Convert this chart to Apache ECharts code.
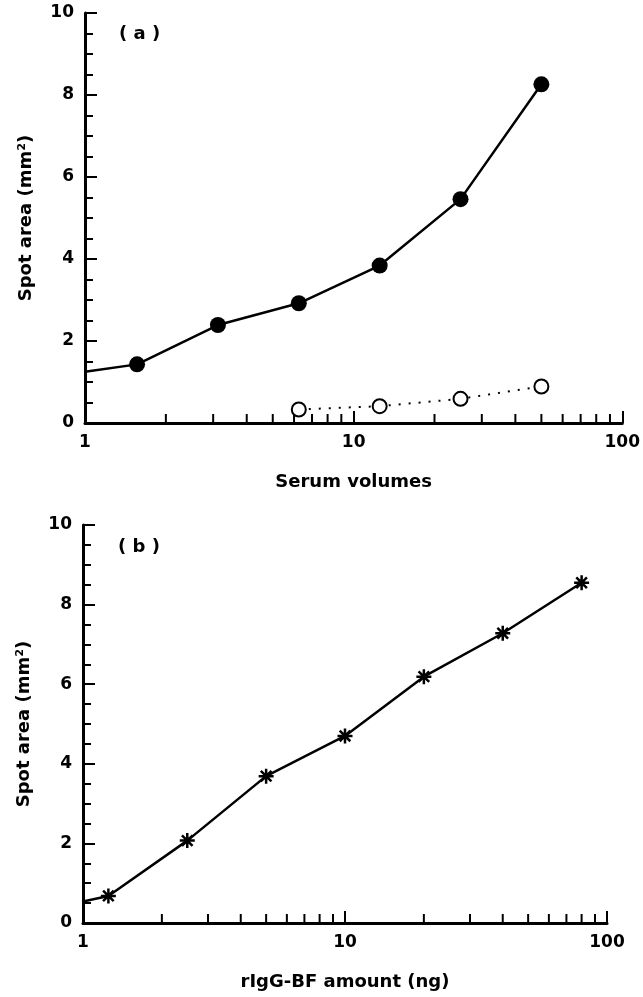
<!DOCTYPE html>
<html>
<head>
<meta charset="utf-8">
<script src="https://cdn.jsdelivr.net/npm/echarts@6/dist/echarts.min.js"></script>
<style>html,body{margin:0;padding:0;background:#fff}#c{width:643px;height:997px}</style>
</head>
<body>
<div id="c"></div>
<script>
// Panel (a): serum volumes
const serumX = [1, 1.5625, 3.125, 6.25, 12.5, 25, 50];
const serumFilledY = [1.25, 1.43, 2.39, 2.92, 3.84, 5.46, 8.26];
const serumOpenX = [6.25, 12.5, 25, 50];
const serumOpenY = [0.33, 0.41, 0.59, 0.89];
// Panel (b): rIgG-BF amount
const riggX = [1, 1.25, 2.5, 5, 10, 20, 40, 80];
const riggY = [0.54, 0.68, 2.07, 3.69, 4.70, 6.19, 7.28, 8.55];
// Axis tick values
const xMajorTicks = [1, 10, 100];
const xMinorTicks = [2, 3, 4, 5, 6, 7, 8, 9, 20, 30, 40, 50, 60, 70, 80, 90];
const yTicks = [0, 2, 4, 6, 8, 10];

const FONT = 'DejaVu Sans';
const asterisk = 'path://M0,-10L0,10M-10,0L10,0M-7.07,-7.07L7.07,7.07M-7.07,7.07L7.07,-7.07';

function xAxis(idx, name) {
  return {
    type: 'log', logBase: 10, min: 1, max: 100, gridIndex: idx,
    name: name, nameLocation: 'middle', nameGap: 50,
    nameTextStyle: {fontFamily: FONT, fontSize: 18, fontWeight: 'bold', color: '#000'},
    axisLine: {show: true, lineStyle: {color: '#000', width: 3}},
    axisTick: {show: true, inside: true, length: 12, lineStyle: {color: '#000', width: 2}},
    axisLabel: {fontFamily: FONT, fontSize: 17, fontWeight: 'bold', color: '#000', margin: 11,
      formatter: v => (xMajorTicks.indexOf(Math.round(v)) >= 0 ? String(Math.round(v)) : '')},
    splitLine: {show: false}
  };
}
function yAxis(idx) {
  return {
    type: 'value', min: yTicks[0], max: yTicks[yTicks.length - 1], interval: 2, gridIndex: idx,
    name: 'Spot area (mm²)', nameLocation: 'middle', nameGap: 50,
    nameTextStyle: {fontFamily: FONT, fontSize: 18, fontWeight: 'bold', color: '#000'},
    axisLine: {show: true, lineStyle: {color: '#000', width: 3}},
    axisTick: {show: true, inside: true, length: 12, lineStyle: {color: '#000', width: 2}},
    minorTick: {show: true, splitNumber: 4, length: 8, lineStyle: {color: '#000', width: 2}},
    axisLabel: {fontFamily: FONT, fontSize: 17, fontWeight: 'bold', color: '#000', margin: 11},
    splitLine: {show: false}
  };
}
function minorTickSeries(idx) {
  return {
    type: 'custom', xAxisIndex: idx, yAxisIndex: idx, silent: true, clip: false, z: 5,
    data: xMinorTicks.map(v => [v, 0]),
    renderItem: (params, api) => {
      const p = api.coord([api.value(0), api.value(1)]);
      return {type: 'line', shape: {x1: p[0], y1: p[1], x2: p[0], y2: p[1] - 9},
        style: {stroke: '#000', lineWidth: 2}};
    }
  };
}

const chart = echarts.init(document.getElementById('c'), null, {renderer: 'canvas'});
chart.setOption({
  animation: false,
  backgroundColor: '#fff',
  title: [
    {text: '( a )', left: 114, top: 20, textStyle: {fontFamily: FONT, fontSize: 18, fontWeight: 'bold', color: '#000'}},
    {text: '( b )', left: 113, top: 533, textStyle: {fontFamily: FONT, fontSize: 18, fontWeight: 'bold', color: '#000'}}
  ],
  grid: [
    {left: 85, top: 13, width: 538, height: 410},
    {left: 83, top: 525, width: 524, height: 398}
  ],
  xAxis: [xAxis(0, 'Serum volumes'), xAxis(1, 'rIgG-BF amount (ng)')],
  yAxis: [yAxis(0), yAxis(1)],
  series: [
    minorTickSeries(0),
    minorTickSeries(1),
    {
      type: 'line', xAxisIndex: 0, yAxisIndex: 0, z: 10,
      data: serumX.map((x, i) => i === 0 ? {value: [x, serumFilledY[i]], symbol: 'none'} : [x, serumFilledY[i]]),
      symbol: 'circle', symbolSize: 16,
      itemStyle: {color: '#000'},
      lineStyle: {color: '#000', width: 2.5}
    },
    {
      type: 'line', xAxisIndex: 0, yAxisIndex: 0, z: 10,
      data: serumOpenX.map((x, i) => [x, serumOpenY[i]]),
      symbol: 'circle', symbolSize: 14,
      itemStyle: {color: '#fff', borderColor: '#000', borderWidth: 2},
      lineStyle: {color: '#000', width: 2, type: [2, 8]}
    },
    {
      type: 'line', xAxisIndex: 1, yAxisIndex: 1, z: 10,
      data: riggX.map((x, i) => i === 0 ? {value: [x, riggY[i]], symbol: 'none'} : [x, riggY[i]]),
      symbol: asterisk, symbolSize: 15,
      itemStyle: {color: '#000', borderColor: '#000', borderWidth: 2.5},
      lineStyle: {color: '#000', width: 2.5}
    }
  ]
});
</script>
</body>
</html>
